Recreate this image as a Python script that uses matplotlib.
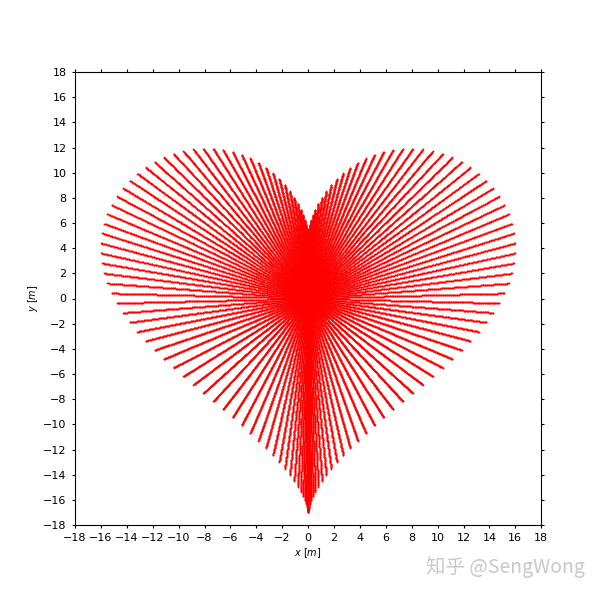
import numpy as np
import matplotlib
matplotlib.use('Agg')
import matplotlib.pyplot as plt

plt.rcParams['font.family'] = ['DejaVu Sans', 'Noto Sans CJK SC']

# heart curve: x = 16 sin^3 t ; y = 13 cos t - 5 cos 2t - 2 cos 3t - cos 4t
x_amp = 16
y_coefs = [13, -5, -2, -1]   # cos(t), cos(2t), cos(3t), cos(4t)
n_rays = 150                 # rays (~0.8 m apart at x=-16)
n_dots = 300                 # dots along each ray
ticks = list(range(-18, 19, 2))

t = np.linspace(0, 2 * np.pi, n_rays, endpoint=False)
hx = x_amp * np.sin(t) ** 3
hy = sum(c * np.cos((k + 1) * t) for k, c in enumerate(y_coefs))
r = np.linspace(0, 1, n_dots)

fig = plt.figure(figsize=(6, 6), dpi=100)
ax = fig.add_axes([0.125, 0.125, 0.777, 0.755])

X = np.outer(hx, r).ravel()
Y = np.outer(hy, r).ravel()
ax.scatter(X, Y, s=1.7, c='red', marker='o', linewidths=0)

ax.set_xlim(-18, 18)
ax.set_ylim(-18, 18)
ax.set_xticks(ticks)
ax.set_yticks(ticks)
ax.tick_params(labelsize=8, top=True, right=True, length=2.5)
ax.set_xlabel(r'$x$ [$m$]', fontsize=7, labelpad=2)
ax.set_ylabel(r'$y$ [$m$]', fontsize=7, labelpad=2)

fig.text(0.975, 0.037, '知乎 @SengWong', ha='right', va='bottom', fontsize=14,
         color='#c8c8c8', family=['Noto Sans CJK SC', 'DejaVu Sans'])

fig.savefig('out.png', dpi=100)
